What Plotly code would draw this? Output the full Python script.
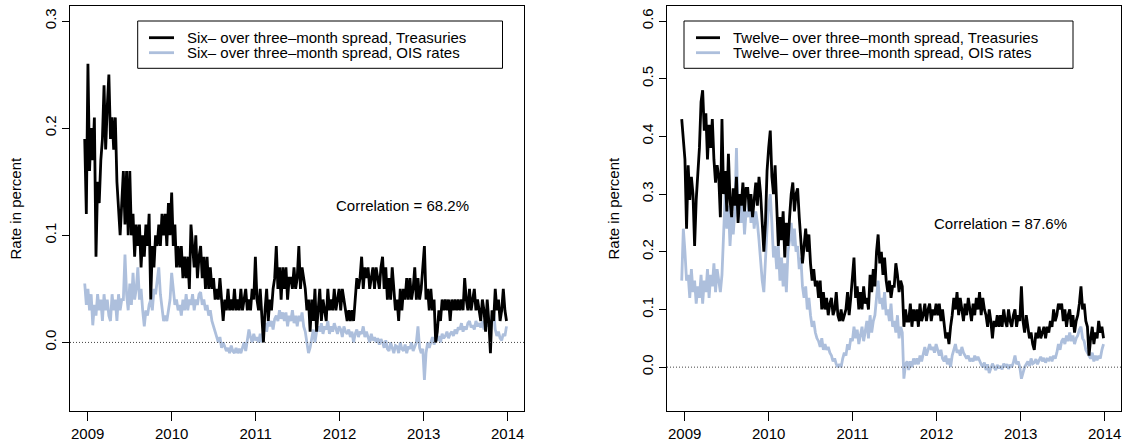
import pandas as pd
import plotly.graph_objects as go

# ---------------- data (weekly readings, percent) ----------------
start_date = "2008-12-19"
freq = "W-FRI"

six_treasury = [
    0.19, 0.12,
    0.26, 0.16, 0.20, 0.17, 0.21, 0.08, 0.15, 0.13, 0.17, 0.19, 0.24, 0.18, 0.22, 0.25, 0.19, 0.21, 0.18,
    0.21, 0.15, 0.12, 0.10, 0.13, 0.16, 0.11, 0.16, 0.10, 0.16, 0.10, 0.12, 0.08, 0.11, 0.09, 0.11, 0.07, 0.10,
    0.08, 0.11, 0.09, 0.12, 0.04, 0.09, 0.07, 0.10, 0.09, 0.11, 0.09, 0.12, 0.10, 0.12, 0.09, 0.13, 0.10,
    0.14, 0.09, 0.11, 0.07, 0.09, 0.07, 0.09, 0.06, 0.08, 0.06, 0.08, 0.05, 0.11, 0.09, 0.07, 0.10, 0.06, 0.08,
    0.09, 0.06, 0.08, 0.05, 0.08, 0.05, 0.07, 0.05, 0.06, 0.04, 0.05, 0.04, 0.06, 0.04, 0.02, 0.04, 0.03,
    0.05, 0.03, 0.04, 0.03, 0.05, 0.03, 0.04, 0.03, 0.05, 0.03, 0.04, 0.05, 0.03, 0.04, 0.03, 0.05, 0.04, 0.08,
    0.04, 0.03, 0.05, 0.02, 0.00, 0.03, 0.05, 0.02, 0.04, 0.03, 0.05, 0.06, 0.09, 0.05, 0.07, 0.04, 0.07,
    0.05, 0.07, 0.04, 0.06, 0.06, 0.05, 0.07, 0.05, 0.06, 0.09, 0.05, 0.07, 0.06, 0.05, 0.03, 0.04, 0.01,
    0.04, 0.02, 0.05, 0.01, 0.03, 0.05, 0.02, 0.04, 0.03, 0.02, 0.05, 0.03, 0.04, 0.03, 0.05, 0.03, 0.04, 0.05,
    0.03, 0.05, 0.04, 0.03, 0.02, 0.03, 0.02, 0.03, 0.02, 0.04, 0.06, 0.05, 0.06, 0.08, 0.05, 0.07, 0.06,
    0.07, 0.05, 0.06, 0.07, 0.05, 0.07, 0.06, 0.05, 0.07, 0.08, 0.05, 0.07, 0.04, 0.06, 0.04, 0.07, 0.05, 0.03,
    0.04, 0.02, 0.05, 0.03, 0.05, 0.04, 0.06, 0.04, 0.06, 0.04, 0.05, 0.07, 0.04, 0.06, 0.04, 0.05, 0.07,
    0.09, 0.04, 0.05, 0.03, 0.05, 0.03, 0.04, 0.00, 0.01, 0.03, 0.02, 0.04, 0.03, 0.04, 0.03, 0.04, 0.02,
    0.04, 0.03, 0.04, 0.03, 0.04, 0.03, 0.04, 0.03, 0.06, 0.04, 0.03, 0.05, 0.03, 0.04, 0.05, 0.03, 0.04, 0.03,
    0.02, 0.04, 0.03, 0.01, 0.04, 0.02, -0.01, 0.03, 0.02, 0.05, 0.03, 0.04, 0.02, 0.03, 0.05, 0.03, 0.02,
]

six_ois = [
    0.055, 0.035,
    0.05, 0.03, 0.045, 0.016, 0.035, 0.025, 0.045, 0.03, 0.04, 0.02, 0.045, 0.03, 0.04, 0.025, 0.02, 0.045, 0.03,
    0.04, 0.02, 0.045, 0.03, 0.04, 0.04, 0.082, 0.045, 0.03, 0.055, 0.035, 0.065, 0.04, 0.05, 0.07, 0.04, 0.05, 0.03,
    0.015, 0.03, 0.025, 0.035, 0.04, 0.03, 0.05, 0.045, 0.06, 0.07, 0.045, 0.03, 0.02, 0.025, 0.02, 0.03, 0.04,
    0.065, 0.05, 0.035, 0.04, 0.03, 0.035, 0.025, 0.04, 0.03, 0.045, 0.03, 0.04, 0.035,
    0.045, 0.03, 0.04, 0.035, 0.045, 0.047, 0.035, 0.04, 0.03, 0.035, 0.025, 0.03, 0.02,
    0.015, 0.01, 0.005, 0.0, 0.005, -0.005, 0.0, -0.005, -0.008, -0.005, -0.01, -0.003, -0.008,
    -0.01, -0.005, -0.01, -0.006, -0.01, -0.005, 0.0, -0.008, 0.005, 0.012, 0.005, 0.0, 0.008, 0.002,
    0.005, 0.0, 0.008, 0.0, 0.012, 0.018, 0.01, 0.02, 0.015, 0.02, 0.012, 0.022, 0.025, 0.02, 0.03, 0.022, 0.028,
    0.02, 0.028, 0.015, 0.025, 0.02, 0.03, 0.018, 0.025, 0.015, 0.025, 0.02, 0.028, 0.015, 0.01, 0.0, -0.01, -0.005,
    0.005, 0.012, 0.0, 0.01, 0.015, 0.01, 0.018, 0.008, 0.015, 0.012, 0.02, 0.008, 0.015,
    0.01, 0.018, 0.012, 0.008, 0.015,
    0.012, 0.005, 0.015, 0.01, 0.008, 0.012, 0.005, 0.01, 0.0, 0.008, 0.012, 0.005, 0.01, 0.008, 0.015, 0.005, 0.01,
    0.005, 0.0, 0.008, 0.002, 0.005, 0.0, 0.004, -0.002, 0.003, 0.0, -0.005, 0.002, -0.006,
    -0.008, 0.0, -0.005, -0.01, -0.003, -0.004, -0.01, 0.0, -0.006, -0.008, -0.002, -0.01, -0.004,
    -0.006, 0.0, -0.008, -0.004, 0.0, 0.015, -0.005, -0.01, -0.006,
    -0.035, -0.01, 0.0, -0.005, 0.0, 0.005, -0.002, 0.004, 0.002, 0.006, 0.0, 0.008, 0.004, 0.006, 0.01, 0.004, 0.008,
    0.01, 0.006, 0.012, 0.008, 0.014, 0.012, 0.018, 0.01, 0.015, 0.012, 0.018, 0.02, 0.014,
    0.016, 0.012, 0.02, 0.015, 0.018, 0.014, 0.02, 0.012, 0.018, 0.015, 0.02, 0.01, 0.025,
    0.03, 0.012, 0.006, 0.01, 0.004, 0.002, 0.008, 0.006, 0.015,
]

twelve_treasury = [
    0.43, 0.40,
    0.36, 0.24, 0.35, 0.29, 0.33, 0.30, 0.21, 0.29, 0.34, 0.38, 0.46, 0.48, 0.41, 0.44, 0.36, 0.42, 0.38,
    0.43, 0.36, 0.32, 0.35, 0.33, 0.26, 0.43, 0.30, 0.34, 0.27, 0.37, 0.29, 0.26, 0.31, 0.28, 0.33, 0.25, 0.30,
    0.28, 0.32, 0.27, 0.31, 0.31, 0.27, 0.30, 0.26, 0.29, 0.32, 0.28, 0.33, 0.30, 0.24, 0.20, 0.25, 0.34,
    0.38, 0.41, 0.33, 0.30, 0.35, 0.28, 0.21, 0.26, 0.22, 0.27, 0.19, 0.25, 0.21, 0.26, 0.30, 0.32, 0.27, 0.30,
    0.31, 0.26, 0.22, 0.18, 0.21, 0.24, 0.20, 0.23, 0.18, 0.15, 0.17, 0.14, 0.15, 0.12, 0.15, 0.10, 0.13,
    0.10, 0.12, 0.09, 0.11, 0.12, 0.09, 0.10, 0.13, 0.09, 0.08, 0.10, 0.08, 0.09, 0.10, 0.13, 0.09, 0.12, 0.15,
    0.19, 0.12, 0.14, 0.10, 0.13, 0.10, 0.14, 0.11, 0.12, 0.10, 0.16, 0.13, 0.17, 0.14, 0.20, 0.23, 0.18,
    0.20, 0.16, 0.19, 0.15, 0.13, 0.15, 0.12, 0.14, 0.14, 0.18, 0.16, 0.13, 0.15, 0.14, 0.07, 0.10, 0.08,
    0.08, 0.11, 0.07, 0.10, 0.08, 0.10, 0.07, 0.11, 0.08, 0.09, 0.11, 0.08, 0.10, 0.11, 0.08, 0.10, 0.09, 0.11,
    0.09, 0.11, 0.08, 0.10, 0.07, 0.05, 0.06, 0.04, 0.07, 0.09, 0.12, 0.10, 0.13, 0.09, 0.12, 0.10, 0.08,
    0.11, 0.09, 0.12, 0.10, 0.08, 0.11, 0.09, 0.12, 0.10, 0.13, 0.09, 0.12, 0.10, 0.09, 0.07, 0.10, 0.08, 0.05,
    0.08, 0.07, 0.09, 0.07, 0.09, 0.07, 0.10, 0.08, 0.07, 0.10, 0.08, 0.07, 0.09, 0.10, 0.07, 0.09, 0.08,
    0.14, 0.08, 0.06, 0.09, 0.07, 0.05, 0.06, 0.04, 0.03, 0.06, 0.05, 0.07, 0.05, 0.06, 0.07, 0.05, 0.07,
    0.06, 0.08, 0.07, 0.10, 0.08, 0.09, 0.11, 0.10, 0.11, 0.08, 0.10, 0.07, 0.09, 0.10, 0.07, 0.09, 0.06, 0.08,
    0.09, 0.11, 0.14, 0.10, 0.11, 0.08, 0.07, 0.02, 0.05, 0.07, 0.04, 0.06, 0.05, 0.08, 0.06, 0.07, 0.05,
]

twelve_ois = [
    0.15, 0.24,
    0.20, 0.15, 0.16, 0.12, 0.17, 0.13, 0.15, 0.11, 0.14, 0.12, 0.16, 0.11, 0.15, 0.13, 0.17, 0.12, 0.16,
    0.14, 0.18, 0.13, 0.17, 0.15, 0.13, 0.16, 0.24, 0.30, 0.24, 0.28, 0.21, 0.26, 0.23, 0.27, 0.38, 0.26, 0.29,
    0.25, 0.29, 0.23, 0.27, 0.26, 0.30, 0.25, 0.28, 0.24, 0.27, 0.25, 0.22, 0.18, 0.15, 0.13, 0.19, 0.24,
    0.28, 0.30, 0.25, 0.19, 0.21, 0.17, 0.21, 0.15, 0.19, 0.14, 0.18, 0.13, 0.20, 0.22, 0.25, 0.21, 0.24, 0.20,
    0.21, 0.17, 0.19, 0.14, 0.12, 0.14, 0.10, 0.12, 0.09, 0.07, 0.08, 0.06, 0.05, 0.045, 0.035, 0.05, 0.03,
    0.04, 0.03, 0.035, 0.025, 0.02, 0.01, 0.015, 0.005, 0.0, 0.005, 0.0, 0.015, 0.025,
    0.02, 0.04, 0.03, 0.05, 0.045,
    0.07, 0.05, 0.065, 0.04, 0.055, 0.07, 0.045, 0.06, 0.08, 0.05, 0.09, 0.06, 0.08, 0.09, 0.12, 0.15, 0.11,
    0.12, 0.10, 0.13, 0.09, 0.10, 0.08, 0.11, 0.07, 0.08, 0.06, 0.09, 0.05, 0.07, 0.06, -0.02, 0.005, 0.01,
    -0.005, 0.01, 0.0, 0.015, 0.005, 0.015, 0.005, 0.02, 0.01, 0.025, 0.035, 0.02, 0.03,
    0.04, 0.03, 0.035, 0.025, 0.04,
    0.03, 0.02, 0.03, 0.015, 0.01, 0.02, 0.005, 0.015, 0.0, 0.02, 0.03, 0.04, 0.025, 0.03, 0.02, 0.035, 0.025,
    0.02, 0.015, 0.02, 0.01, 0.015, 0.01, 0.02, 0.012, 0.018, 0.01, 0.005, 0.0, 0.008,
    -0.005, 0.005, -0.01, 0.0, 0.006, 0.0, -0.005, 0.004, -0.002, 0.002, -0.004, 0.006, 0.0,
    0.005, -0.003, 0.004, 0.0, 0.008, 0.02, 0.005, 0.01, 0.0,
    -0.02, -0.01, 0.0, 0.005, 0.01, 0.002, 0.015, 0.006, 0.008, 0.014, 0.005, 0.012, 0.018, 0.01, 0.016, 0.008, 0.014,
    0.012, 0.018, 0.01, 0.02, 0.015, 0.025, 0.04, 0.03, 0.045, 0.05, 0.04, 0.055, 0.045,
    0.06, 0.045, 0.055, 0.04, 0.05, 0.055, 0.065, 0.07, 0.05, 0.045, 0.03, 0.025, 0.02,
    0.015, 0.025, 0.01, 0.02, 0.012, 0.02, 0.015, 0.03, 0.04,
]

year_ticks = ["2009", "2010", "2011", "2012", "2013", "2014"]
left_y_ticks = [0.0, 0.1, 0.2, 0.3]
right_y_ticks = [0.0, 0.1, 0.2, 0.3, 0.4, 0.5, 0.6]
legend_left = ["Six\u2013 over three\u2013month spread, Treasuries",
               "Six\u2013 over three\u2013month spread, OIS rates"]
legend_right = ["Twelve\u2013 over three\u2013month spread, Treasuries",
                "Twelve\u2013 over three\u2013month spread, OIS rates"]
corr_left = "Correlation = 68.2%"
corr_right = "Correlation = 87.6%"

# ---------------- styling ----------------
W, H = 1125, 444
FONT = "Liberation Sans, Arial, Helvetica, sans-serif"
FS = 15
BLACK = "#000000"
BLUE = "#adbfdc"
LW = 2.8


def dates_for(vals):
    return pd.date_range(start_date, periods=len(vals), freq=freq)


def px(x):
    return x / W


def py(y):
    return 1 - y / H


fig = go.Figure()
fig.add_trace(go.Scatter(x=dates_for(six_ois), y=six_ois, mode="lines",
                         line=dict(color=BLUE, width=LW), xaxis="x", yaxis="y", showlegend=False))
fig.add_trace(go.Scatter(x=dates_for(six_treasury), y=six_treasury, mode="lines",
                         line=dict(color=BLACK, width=LW), xaxis="x", yaxis="y", showlegend=False))
fig.add_trace(go.Scatter(x=dates_for(twelve_ois), y=twelve_ois, mode="lines",
                         line=dict(color=BLUE, width=LW), xaxis="x2", yaxis="y2", showlegend=False))
fig.add_trace(go.Scatter(x=dates_for(twelve_treasury), y=twelve_treasury, mode="lines",
                         line=dict(color=BLACK, width=LW), xaxis="x2", yaxis="y2", showlegend=False))

tickvals_x = [f"{y}-01-01" for y in year_ticks]
x_range = ["2008-10-16", "2014-03-13"]
ydom = [py(411), py(6)]

common_x = dict(type="date", range=x_range, tickvals=tickvals_x, ticktext=year_ticks,
                showline=True, mirror=True, linecolor=BLACK, linewidth=1,
                ticks="outside", ticklen=9, tickcolor=BLACK, tickwidth=1,
                showgrid=False, zeroline=False, tickfont=dict(family=FONT, size=FS, color=BLACK))
common_y = dict(showline=True, mirror=True, linecolor=BLACK, linewidth=1,
                ticks="outside", ticklen=7, tickcolor=BLACK, tickwidth=1, tickangle=-90,
                showgrid=False, zeroline=False, tickfont=dict(family=FONT, size=FS, color=BLACK),
                domain=ydom)

fig.update_layout(
    width=W, height=H,
    margin=dict(l=0, r=0, t=0, b=0),
    paper_bgcolor="white", plot_bgcolor="white",
    font=dict(family=FONT, size=FS, color=BLACK),
    xaxis=dict(domain=[px(70), px(524)], anchor="y", **common_x),
    yaxis=dict(anchor="x", range=[-0.064, 0.314], tickvals=left_y_ticks,
               ticktext=[f"{v:.1f}" for v in left_y_ticks], **common_y),
    xaxis2=dict(domain=[px(667), px(1121)], anchor="y2", **common_x),
    yaxis2=dict(anchor="x2", range=[-0.076, 0.626], tickvals=right_y_ticks,
                ticktext=[f"{v:.1f}" for v in right_y_ticks], **common_y),
)

shapes = []
annotations = []
for xa, ya in (("x", "y"), ("x2", "y2")):
    shapes.append(dict(type="line", xref=f"{xa} domain", yref=ya, x0=0, x1=1, y0=0, y1=0,
                       line=dict(color="#444444", width=1, dash="1px,2px")))

# legends (R-style boxed legends)
for (bx0, bx1, lx0, lx1, tx, labels) in ((137.7, 502.5, 149, 174, 185, legend_left),
                                         (684, 1073, 696, 720, 731, legend_right)):
    shapes.append(dict(type="rect", xref="paper", yref="paper", x0=px(bx0), x1=px(bx1),
                       y0=py(68.3), y1=py(21), line=dict(color=BLACK, width=1), fillcolor="white"))
    for row_y, col, lab in ((37.7, BLACK, labels[0]), (52.7, BLUE, labels[1])):
        shapes.append(dict(type="line", xref="paper", yref="paper", x0=px(lx0), x1=px(lx1),
                           y0=py(row_y), y1=py(row_y), line=dict(color=col, width=LW)))
        annotations.append(dict(xref="paper", yref="paper", x=px(tx), y=py(row_y), text=lab,
                                showarrow=False, xanchor="left", yanchor="middle",
                                font=dict(family=FONT, size=FS, color=BLACK)))

annotations.append(dict(xref="paper", yref="paper", x=px(402.5), y=py(205), text=corr_left,
                        showarrow=False, xanchor="center", yanchor="middle",
                        font=dict(family=FONT, size=FS, color=BLACK)))
annotations.append(dict(xref="paper", yref="paper", x=px(1000), y=py(224), text=corr_right,
                        showarrow=False, xanchor="center", yanchor="middle",
                        font=dict(family=FONT, size=FS, color=BLACK)))
for tx in (15, 613):
    annotations.append(dict(xref="paper", yref="paper", x=px(tx), y=py(208.5), text="Rate in percent",
                            textangle=-90, showarrow=False, xanchor="center", yanchor="middle",
                            font=dict(family=FONT, size=FS, color=BLACK)))

fig.update_layout(shapes=shapes, annotations=annotations)
fig.write_html("out.html")
